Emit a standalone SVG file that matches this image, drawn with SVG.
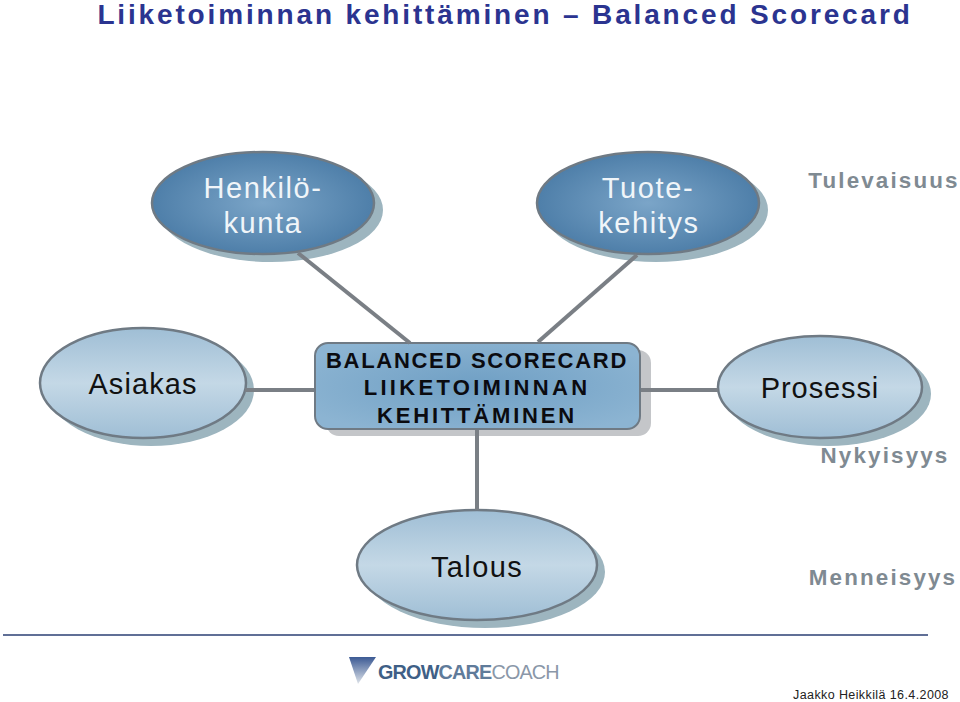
<svg xmlns="http://www.w3.org/2000/svg" width="960" height="702" viewBox="0 0 960 702">
<style>
text{font-family:"Liberation Sans",Arial,sans-serif;text-anchor:middle}
.title{font-size:28px;font-weight:bold;fill:#2b3490;letter-spacing:2.85px}
.dark{stroke:#6f7a84;stroke-width:2.5;fill:url(#dk)}
.light{stroke:#6f7a84;stroke-width:2.5;fill:url(#lt)}
.sh{fill:#9db5bf}
.wt{font-size:29px;fill:#f0f5f9;letter-spacing:1.6px}
.bk{font-size:29px;fill:#111}
.box{font-size:22px;font-weight:bold;fill:#0b0b10}
.side{font-size:22.4px;font-weight:bold;fill:#7f8a92;letter-spacing:2.15px}
.conn{stroke:#7a7f85;stroke-width:4;fill:none}
</style>
<defs>
<radialGradient id="dk" cx="50%" cy="50%" r="55%"><stop offset="0" stop-color="#7ba5c8"/><stop offset="1" stop-color="#4a7ba6"/></radialGradient>
<linearGradient id="lt" x1="0" y1="0" x2="0" y2="1"><stop offset="0" stop-color="#9fbed5"/><stop offset="0.5" stop-color="#c4d8e6"/><stop offset="1" stop-color="#9fbed5"/></linearGradient>
<radialGradient id="bx" cx="50%" cy="50%" r="60%"><stop offset="0" stop-color="#6f9fc4"/><stop offset="1" stop-color="#8cb4d2"/></radialGradient>
<linearGradient id="tri" x1="0" y1="0" x2="0" y2="1"><stop offset="0" stop-color="#3c5a94"/><stop offset="1" stop-color="#dfe4ea"/></linearGradient>
</defs>
<rect width="960" height="702" fill="#fff"/>
<text class="title" x="505" y="24">Liiketoiminnan kehittäminen – Balanced Scorecard</text>
<g id="henkilokunta">
<ellipse class="sh" cx="271" cy="210" rx="112" ry="52"/>
<ellipse class="dark" cx="263" cy="203" rx="111" ry="51"/>
<text class="wt" x="263" y="198">Henkilö-</text>
<text class="wt" x="263" y="233">kunta</text>
</g>
<g id="tuotekehitys">
<ellipse class="sh" cx="656" cy="210" rx="112" ry="52"/>
<ellipse class="dark" cx="648" cy="203" rx="111" ry="51"/>
<text class="wt" x="648" y="198">Tuote-</text>
<text class="wt" x="649" y="233">kehitys</text>
</g>
<g id="asiakas">
<ellipse class="sh" cx="151" cy="390" rx="103" ry="56"/>
<ellipse class="light" cx="143" cy="383" rx="103" ry="55"/>
<text class="bk" x="143" y="394" letter-spacing="1.1">Asiakas</text>
</g>
<g id="balanced-scorecard">
<rect x="326" y="350" width="325" height="86" rx="13" fill="#c4c6c9"/>
<rect x="315" y="343" width="325" height="86" rx="13" fill="url(#bx)" stroke="#6f7a84" stroke-width="2"/>
<text class="box" x="477" y="368" letter-spacing="1.7">BALANCED SCORECARD</text>
<text class="box" x="477" y="395" letter-spacing="3.3">LIIKETOIMINNAN</text>
<text class="box" x="477" y="423" letter-spacing="2.8">KEHITTÄMINEN</text>
</g>
<g id="prosessi">
<ellipse class="sh" cx="828" cy="394" rx="103" ry="52"/>
<ellipse class="light" cx="820" cy="387" rx="102" ry="51"/>
<text class="bk" x="820" y="398" letter-spacing="0.9">Prosessi</text>
</g>
<g id="talous">
<ellipse class="sh" cx="485" cy="572" rx="120" ry="56"/>
<ellipse class="light" cx="477" cy="565" rx="120" ry="55"/>
<text class="bk" x="477" y="577" letter-spacing="1.4">Talous</text>
</g>
<g id="connectors">
<line class="conn" x1="298" y1="253" x2="410" y2="343"/>
<line class="conn" x1="637" y1="255" x2="538" y2="342"/>
<line class="conn" x1="245" y1="390" x2="314" y2="390"/>
<line class="conn" x1="641" y1="390" x2="718" y2="390"/>
<line class="conn" x1="477" y1="430" x2="477" y2="510"/>
</g>
<text class="side" x="884" y="188">Tulevaisuus</text>
<text class="side" x="885" y="463">Nykyisyys</text>
<text class="side" x="883" y="585">Menneisyys</text>
<line x1="3" y1="635" x2="928" y2="635" stroke="#2b3f73" stroke-width="1.6"/>
<g id="logo">
<polygon points="349,657 376,657 358,684" fill="url(#tri)"/>
<text x="378" y="679" font-size="19.8" font-weight="bold" fill="#3f5f86" style="text-anchor:start;letter-spacing:-0.8px">GROW<tspan fill="#5f7b9a">CARE</tspan><tspan fill="#8a97a8" font-weight="normal">COACH</tspan></text>
</g>
<text x="871" y="699" font-size="12.5" fill="#222" letter-spacing="0.4">Jaakko Heikkilä 16.4.2008</text>
</svg>
